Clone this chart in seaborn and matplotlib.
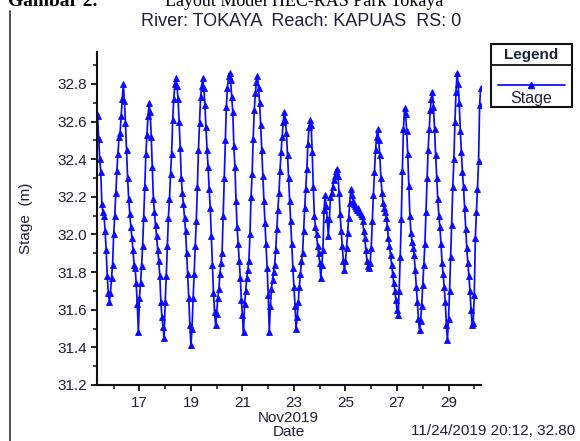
import matplotlib
matplotlib.use("Agg")
import matplotlib.pyplot as plt
import matplotlib.dates as mdates
from matplotlib.lines import Line2D
from matplotlib.patches import Rectangle
import pandas as pd
import seaborn as sns

# Hourly water stage (m) at RS 0, one list per 24 h starting 15 Nov 2019 08:00
start_time = "2019-11-15 08:00"
stage_d01 = [32.65, 32.63, 32.51, 32.40, 32.33, 32.16, 32.12, 32.10, 32.02, 31.92, 31.78, 31.69,
             31.64, 31.69, 31.77, 31.84, 32.00, 32.10, 32.22, 32.34, 32.43, 32.52, 32.54, 32.63]
stage_d02 = [32.72, 32.80, 32.71, 32.59, 32.45, 32.30, 32.19, 32.11, 32.04, 31.98, 31.92, 31.84,
             31.82, 31.74, 31.63, 31.48, 31.66, 31.74, 31.83, 31.94, 32.09, 32.25, 32.43, 32.53]
stage_d03 = [32.63, 32.70, 32.65, 32.52, 32.36, 32.19, 32.12, 32.05, 31.99, 31.92, 31.86, 31.78,
             31.64, 31.56, 31.51, 31.45, 31.64, 31.78, 31.94, 32.09, 32.19, 32.32, 32.43, 32.61]
stage_d04 = [32.72, 32.80, 32.83, 32.79, 32.72, 32.60, 32.46, 32.30, 32.22, 32.16, 32.09, 32.02,
             31.90, 31.79, 31.66, 31.52, 31.41, 31.50, 31.66, 31.79, 31.94, 32.07, 32.25, 32.45]
stage_d05 = [32.59, 32.73, 32.79, 32.83, 32.78, 32.69, 32.57, 32.45, 32.36, 32.24, 32.14, 31.99,
             31.84, 31.69, 31.59, 31.52, 31.58, 31.66, 31.71, 31.79, 31.85, 31.90, 32.10, 32.30]
stage_d06 = [32.50, 32.68, 32.78, 32.84, 32.86, 32.82, 32.73, 32.65, 32.47, 32.36, 32.18, 32.04,
             31.95, 31.86, 31.77, 31.65, 31.57, 31.48, 31.63, 31.70, 31.77, 31.81, 31.86, 32.00]
stage_d07 = [32.20, 32.32, 32.51, 32.66, 32.75, 32.81, 32.84, 32.78, 32.70, 32.58, 32.45, 32.31,
             32.18, 32.06, 31.95, 31.82, 31.68, 31.48, 31.62, 31.71, 31.76, 31.80, 31.84, 31.92]
stage_d08 = [32.03, 32.13, 32.22, 32.34, 32.44, 32.52, 32.60, 32.65, 32.61, 32.54, 32.42, 32.30,
             32.18, 32.07, 31.95, 31.82, 31.72, 31.62, 31.50, 31.56, 31.64, 31.72, 31.79, 31.86]
stage_d09 = [31.90, 32.02, 32.14, 32.24, 32.35, 32.48, 32.57, 32.61, 32.58, 32.44, 32.25, 32.10,
             32.04, 32.00, 31.94, 31.90, 31.85, 31.77, 31.84, 31.92, 32.13, 32.21, 32.15, 32.08]
stage_d10 = [31.99, 32.08, 32.20, 32.22, 32.25, 32.29, 32.31, 32.34, 32.35, 32.31, 32.22, 32.11,
             32.02, 31.94, 31.86, 31.81, 31.86, 31.93, 32.01, 32.09, 32.17, 32.24, 32.21, 32.18]
stage_d11 = [32.16, 32.15, 32.14, 32.13, 32.14, 32.12, 32.11, 32.10, 32.07, 32.02, 31.98, 31.92,
             31.86, 31.83, 31.82, 31.85, 31.93, 32.07, 32.21, 32.33, 32.45, 32.52, 32.56, 32.50]
stage_d12 = [32.42, 32.30, 32.22, 32.17, 32.14, 32.12, 32.09, 32.04, 31.98, 31.94, 31.89, 31.84,
             31.79, 31.74, 31.70, 31.65, 31.60, 31.57, 31.70, 31.88, 32.08, 32.34, 32.56, 32.67]
stage_d13 = [32.64, 32.55, 32.43, 32.26, 32.10, 32.01, 31.96, 31.93, 31.89, 31.81, 31.72, 31.64,
             31.55, 31.49, 31.54, 31.62, 31.73, 31.84, 31.95, 32.12, 32.30, 32.45, 32.56, 32.66]
stage_d14 = [32.72, 32.76, 32.68, 32.56, 32.42, 32.30, 32.19, 32.10, 32.04, 31.95, 31.85, 31.79,
             31.72, 31.64, 31.52, 31.44, 31.55, 31.70, 31.88, 32.05, 32.25, 32.40, 32.60, 32.76]
stage_d15 = [32.86, 32.80, 32.70, 32.55, 32.44, 32.33, 32.25, 32.14, 32.03, 31.93, 31.85, 31.78,
             31.70, 31.60, 31.52, 31.53, 31.68, 31.98, 32.12, 32.24, 32.39, 32.69, 32.78]

day_blocks = [stage_d01, stage_d02, stage_d03, stage_d04, stage_d05, stage_d06, stage_d07, stage_d08,
              stage_d09, stage_d10, stage_d11, stage_d12, stage_d13, stage_d14, stage_d15]

title_text = "River: TOKAYA  Reach: KAPUAS  RS: 0"
caption_bold = "Gambar 2."
caption_text = "Layout Model HEC-RAS Park Tokaya"
cursor_text = "11/24/2019 20:12, 32.80"
series_name = "Stage"
y_ticks = [31.2, 31.4, 31.6, 31.8, 32.0, 32.2, 32.4, 32.6, 32.8]

stage = [v for block in day_blocks for v in block]
df = pd.DataFrame({
    "Date": pd.date_range(start_time, periods=len(stage), freq="h"),
    "Stage": stage,
})

sns.set_theme(style="ticks")
plt.rcParams["font.family"] = ["Liberation Sans", "DejaVu Sans"]
text_col = "#1c2138"

line_col = "#0a0aff"
line_w = 1.25
marker_size = 4.6

fig = plt.figure(figsize=(5.80, 4.41), dpi=100)
fig.patch.set_facecolor("white")
ax = fig.add_axes([96.5 / 580, 1 - 385 / 441, (480.7 - 96.5) / 580, (385 - 52) / 441])
ax.set_facecolor("white")

sns.lineplot(data=df, x="Date", y="Stage", ax=ax, color=line_col, lw=line_w,
             marker="^", markersize=marker_size, markeredgecolor=line_col, markerfacecolor=line_col,
             markeredgewidth=0.6, legend=False)

ax.set_xlim(df["Date"].iloc[0], df["Date"].iloc[-1])
ax.set_ylim(31.2, 32.97)
ax.set_yticks(y_ticks)
ax.set_yticklabels([f"{v:.1f}" for v in y_ticks])
ax.yaxis.set_minor_locator(matplotlib.ticker.MultipleLocator(0.1))
ax.xaxis.set_major_locator(mdates.DayLocator(bymonthday=range(1, 32, 2)))
ax.xaxis.set_minor_locator(mdates.DayLocator())
ax.xaxis.set_major_formatter(mdates.DateFormatter("%d"))

for side in ("top", "right"):
    ax.spines[side].set_visible(False)
for side in ("left", "bottom"):
    ax.spines[side].set_linewidth(1.5)
    ax.spines[side].set_color("#111111")

ax.tick_params(which="major", direction="out", length=4, width=1.3, color="#111111",
               labelsize=11, labelcolor=text_col, pad=3)
ax.tick_params(which="minor", direction="out", length=3, width=1.1, color="#111111")
ax.tick_params(axis="x", which="major", pad=4)

ax.set_xlabel("Nov2019\nDate", fontsize=11, color=text_col, linespacing=0.95, labelpad=1)
ax.set_ylabel("Stage  (m)", fontsize=11, color=text_col)
ax.yaxis.set_label_coords(-0.165, 0.5)

fig.text(301 / 580, 1 - 22 / 441, title_text, ha="center", va="center", fontsize=13, color=text_col)
fig.text(575 / 580, 1 - 431 / 441, cursor_text, ha="right", va="center", fontsize=11, color=text_col)

# document caption partially above the figure
fig.text(8 / 580, 1 - 6 / 441, caption_bold, ha="left", va="baseline", fontsize=14,
         fontweight="bold", family=["Liberation Serif"], color="black")
fig.text(165 / 580, 1 - 6 / 441, caption_text, ha="left", va="baseline", fontsize=13,
         family=["Liberation Serif"], color="black")
fig.add_artist(Line2D([10 / 580, 10 / 580], [0, 1 - 11 / 441], transform=fig.transFigure,
                      color="#333333", lw=1.2))

# legend box
x0, x1 = 490.7 / 580, 571.7 / 580
y_top, y_div, y_bot = 1 - 44 / 441, 1 - 65 / 441, 1 - 106.7 / 441
fig.add_artist(Rectangle((x0, y_bot), x1 - x0, y_top - y_bot, transform=fig.transFigure,
                         fill=True, facecolor="white", edgecolor="#111111", lw=1.5))
fig.add_artist(Line2D([x0, x1], [y_div, y_div], transform=fig.transFigure, color="#111111", lw=1.3))
fig.text((x0 + x1) / 2, 1 - 55.5 / 441, "Legend", ha="center", va="center", fontsize=11,
         fontweight="bold", color=text_col)
fig.add_artist(Line2D([498 / 580, 565 / 580], [1 - 84.5 / 441] * 2, transform=fig.transFigure,
                      color=line_col, lw=line_w))
fig.add_artist(Line2D([531 / 580], [1 - 84.5 / 441], transform=fig.transFigure, color=line_col,
                      marker="^", markersize=marker_size, markeredgecolor=line_col,
                      markerfacecolor=line_col))
fig.text((x0 + x1) / 2, 1 - 99 / 441, series_name, ha="center", va="center", fontsize=11.5,
         color=text_col)

fig.savefig("out.png", dpi=100, facecolor="white")
